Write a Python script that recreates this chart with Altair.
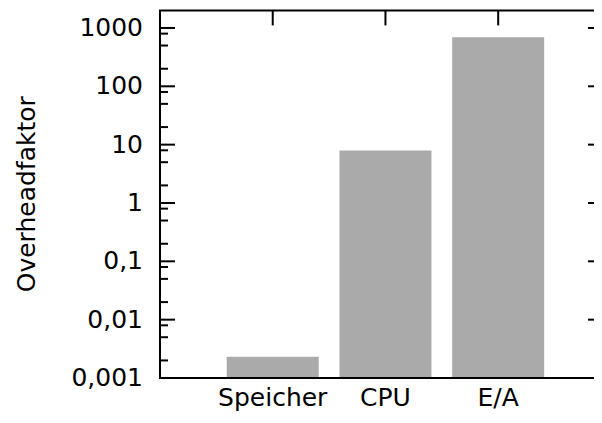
import altair as alt
import pandas as pd

categories = ["Speicher", "CPU", "E/A"]
values = [0.00232, 7.9, 690]
major_ticks = [0.001, 0.01, 0.1, 1, 10, 100, 1000]
major_labels = ["0,001", "0,01", "0,1", "1", "10", "100", "1000"]
minor_ticks = [0.002, 0.005, 0.008, 0.02, 0.05, 0.08, 0.2, 0.5, 0.8,
               2, 5, 8, 20, 50, 80, 200, 500, 800]
x_ticks = [0, 1, 2]

df = pd.DataFrame({"idx": list(range(len(categories))), "cat": categories, "value": values})
major_df = pd.DataFrame({"t": major_ticks, "lab": major_labels})
minor_df = pd.DataFrame({"t": minor_ticks})
xt_df = pd.DataFrame({"t": x_ticks})
one = pd.DataFrame({"k": [0]})

W = 434
H = 367.6
FONT = "DejaVu Sans"
FS = 25
xscale = alt.Scale(domain=[-1, 2.85], nice=False, zero=False, padding=0)
yscale = alt.Scale(type="log", domain=[0.001, 2000], nice=False)

bars = alt.Chart(df).mark_bar(color="#aaaaaa", size=92).encode(
    x=alt.X("idx:Q", scale=xscale, axis=None),
    y=alt.Y("value:Q", scale=yscale, axis=None),
    y2=alt.datum(0.001),
)

ln = dict(color="black", strokeWidth=2)

left_major = alt.Chart(major_df).mark_rule(**ln).encode(
    y=alt.Y("t:Q", scale=yscale, axis=None), x=alt.value(0), x2=alt.value(15))
left_minor = alt.Chart(minor_df).mark_rule(**ln).encode(
    y=alt.Y("t:Q", scale=yscale, axis=None), x=alt.value(0), x2=alt.value(8))
right_major = alt.Chart(major_df).mark_rule(**ln).encode(
    y=alt.Y("t:Q", scale=yscale, axis=None), x=alt.value(W - 6), x2=alt.value(W))
top_ticks = alt.Chart(xt_df).mark_rule(**ln).encode(
    x=alt.X("t:Q", scale=xscale, axis=None), y=alt.value(0), y2=alt.value(15))

top_frame = alt.Chart(one).mark_rule(**ln).encode(
    x=alt.value(-1), x2=alt.value(W), y=alt.value(0))
bottom_frame = alt.Chart(one).mark_rule(**ln).encode(
    x=alt.value(-1), x2=alt.value(W), y=alt.value(H))
left_frame = alt.Chart(one).mark_rule(**ln).encode(
    x=alt.value(0), y=alt.value(0), y2=alt.value(H))

y_labels = alt.Chart(major_df).mark_text(
    font=FONT, fontSize=FS, color="black", align="right", baseline="middle").encode(
    y=alt.Y("t:Q", scale=yscale, axis=None), x=alt.value(-17), text="lab:N")
x_labels = alt.Chart(df).mark_text(
    font=FONT, fontSize=FS, color="black", align="center", baseline="alphabetic").encode(
    x=alt.X("idx:Q", scale=xscale, axis=None), y=alt.value(H + 28), text="cat:N")
y_title = alt.Chart(one).mark_text(
    font=FONT, fontSize=FS, color="black", align="center", baseline="alphabetic",
    angle=270, text="Overheadfaktor").encode(
    x=alt.value(-125), y=alt.value(H / 2))

chart = alt.layer(
    bars, left_major, left_minor, right_major, top_ticks,
    top_frame, bottom_frame, left_frame, y_labels, x_labels, y_title,
).properties(
    width=W, height=H,
    padding={"left": 152, "top": 2.4, "right": 0, "bottom": 35},
    autosize="none",
    background="white",
).configure_view(stroke=None)

chart.save("out.html", embed_options={"renderer": "svg", "actions": False})
